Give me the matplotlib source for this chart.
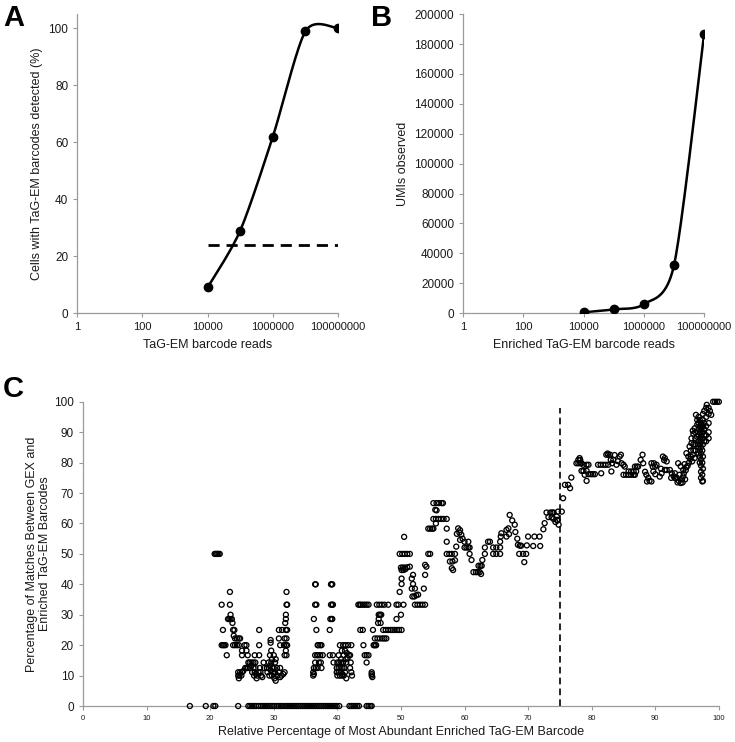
import numpy as np
import matplotlib
matplotlib.use("Agg")
import matplotlib.pyplot as plt

plt.rcParams["font.family"] = ["Liberation Sans", "DejaVu Sans"]

# panel A: detection vs read depth
reads_a = [1e4, 1e5, 1e6, 1e7, 1e8]
cells_detected = [9, 29, 62, 99, 100]
threshold_a = 24

# panel B: UMIs vs enriched read depth
reads_b = [1e4, 1e5, 1e6, 1e7, 1e8]
umis_observed = [500, 2500, 6000, 32000, 187000]

# panel C: relative abundance vs match percentage
cutoff_c = 75

zero_x = [16.8, 19.3, 20.5, 20.8, 24.4, 26.0, 26.3, 26.6, 26.9, 27.2, 27.6, 28.0,
          28.3, 28.6, 28.9, 29.2, 29.5, 29.8, 30.1, 30.5, 30.8, 31.1, 31.4, 31.8,
          32.1, 32.4, 32.7, 33.0, 33.3, 33.6, 33.9, 34.2, 34.5, 34.8, 35.1, 35.4,
          35.7, 36.0, 36.3, 36.6, 36.9, 37.2, 37.5, 37.8, 38.1, 38.4, 38.7, 39.0,
          39.3, 39.6, 39.9, 40.3, 41.9, 42.2, 42.5, 42.8, 43.1, 43.4, 44.6, 44.9,
          45.2, 45.4]

pts_20_33 = [
    (20.7, 50), (20.9, 50), (21.1, 50), (21.3, 50), (21.5, 50),
    (23.1, 37.5), (21.8, 33.3), (23.1, 33.3), (23.2, 30.0), (22.8, 28.6),
    (23.0, 28.6), (23.2, 28.6), (23.4, 28.6), (23.5, 27.3), (22.0, 25.0),
    (23.6, 25.0), (23.8, 25.0), (23.7, 23.1), (23.9, 22.2), (24.2, 22.2),
    (24.5, 22.2), (24.7, 22.2), (21.8, 20), (22.0, 20), (22.2, 20), (22.4, 20),
    (23.6, 20), (23.9, 20), (24.2, 20), (24.5, 20), (25.4, 20), (25.7, 20),
    (22.6, 16.7), (25.0, 18.2), (25.7, 18.2), (25.0, 16.7), (25.9, 16.7),
    (24.4, 11.1), (24.7, 11.1), (25.0, 11.1), (24.4, 10.0), (24.6, 10.0),
    (24.9, 10.0), (24.5, 9.1), (25.2, 11.5), (25.5, 12.5), (25.7, 12.5),
    (25.9, 12.5), (26.2, 12.5), (26.0, 14.3), (26.2, 14.3), (26.5, 14.3),
    (26.8, 14.3), (27.1, 14.3), (26.5, 13.3), (26.8, 12.5), (27.1, 12.5),
    (27.0, 16.7), (27.7, 16.7), (27.7, 20.0), (27.7, 25.0), (27.0, 11.1),
    (27.2, 10.5), (27.4, 10.0), (27.6, 11.1), (27.8, 12.5), (28.0, 10.0),
    (28.2, 9.5), (27.3, 9.1), (27.9, 11.1), (26.6, 11.1), (26.9, 10.0),
    (28.5, 12.5), (28.4, 14.3), (29.5, 21.7), (29.5, 20.8), (29.6, 18.2),
    (29.4, 16.7), (29.7, 15.4), (29.6, 14.3), (29.4, 13.3), (29.8, 12.5),
    (29.5, 11.8), (29.9, 11.1), (30.0, 10.5), (29.7, 10.0), (30.1, 9.1),
    (30.3, 8.3), (30.0, 12.5), (30.2, 14.3), (30.3, 15.4), (30.0, 16.7),
    (30.2, 11.1), (29.2, 14.3), (29.0, 11.1), (29.2, 12.5), (28.9, 12.5),
    (29.3, 10.0), (30.8, 25), (31.3, 25), (31.9, 25), (32.1, 25), (30.8, 22.2),
    (31.7, 22.2), (32.0, 22.2), (31.6, 20), (31.9, 20), (32.1, 20), (31.0, 20),
    (32.0, 37.5), (32.0, 33.3), (32.1, 33.3), (31.9, 30), (31.9, 28.6),
    (31.8, 27.3), (31.9, 18.2), (31.7, 16.7), (32.0, 16.7), (30.6, 10),
    (30.8, 11.1), (31.0, 12.5), (31.2, 10), (31.5, 10.5), (31.7, 11.1),
    (30.5, 12.5), (31.0, 9.5),
]

pts_36_50 = [
    (36.5, 40), (36.6, 40), (39.1, 40), (39.2, 40), (39.0, 40),
    (36.5, 33.3), (36.7, 33.3), (39.0, 33.3), (39.2, 33.3), (39.3, 33.3),
    (36.3, 28.6), (39.1, 28.6), (39.2, 28.6), (38.9, 28.6), (36.7, 25),
    (38.8, 25), (37.0, 20), (37.3, 20), (37.5, 20), (36.9, 20), (36.5, 16.7),
    (36.8, 16.7), (37.0, 16.7), (37.3, 16.7), (37.7, 16.7), (38.8, 16.7),
    (39.3, 16.7), (36.5, 14.3), (37.1, 14.3), (37.4, 14.3), (39.4, 14.3),
    (36.3, 12.5), (36.6, 12.5), (36.9, 12.5), (37.5, 12.5), (36.2, 11.1),
    (36.2, 10.0), (36.3, 10.5), (40.4, 20), (40.9, 20), (41.3, 20), (42.2, 20),
    (41.7, 20), (40.7, 18.2), (41.2, 18.2), (41.5, 17.4), (41.8, 16.7),
    (42.0, 16.7), (41.0, 16.7), (40.2, 16.7), (40.6, 15.4), (41.3, 15.4),
    (41.6, 15.8), (40.0, 14.3), (40.3, 14.3), (40.6, 14.3), (40.9, 14.3),
    (41.4, 14.3), (42.1, 14.3), (39.9, 12.5), (40.2, 12.5), (40.5, 12.5),
    (40.8, 12.5), (41.1, 12.5), (42.0, 12.5), (39.9, 11.1), (40.2, 11.1),
    (40.5, 11.1), (40.8, 10.5), (41.2, 11.1), (42.2, 11.1), (40.0, 10),
    (40.4, 10), (40.7, 10), (41.0, 10), (41.4, 9.1), (42.3, 10),
    (43.3, 33.3), (43.5, 33.3), (43.7, 33.3), (44.0, 33.3), (44.3, 33.3),
    (44.6, 33.3), (44.9, 33.3), (43.6, 25), (44.0, 25), (45.6, 25), (44.1, 20),
    (46.0, 20), (45.7, 20), (44.3, 16.7), (44.6, 16.7), (44.9, 16.7),
    (44.6, 14.3), (45.4, 11.1), (45.4, 10.5), (45.4, 10.0), (45.5, 9.5),
    (46.2, 33.3), (46.6, 33.3), (47.0, 33.3), (47.4, 33.3), (48.0, 33.3),
    (46.7, 30), (46.5, 30), (46.9, 30), (46.5, 28.6), (46.8, 27.3),
    (46.4, 27.3), (47.2, 25), (47.6, 25), (48.0, 25), (48.4, 25), (48.7, 25),
    (49.0, 25), (49.4, 25), (49.7, 25), (50.1, 25), (45.9, 22.2), (46.3, 22.2),
    (46.7, 22.2), (47.1, 22.2), (47.4, 22.2), (47.7, 22.2), (45.8, 20.0),
    (46.1, 20.0), (49.3, 33.3), (49.6, 33.3), (50.4, 33.3), (50.0, 30),
    (49.3, 28.6), (49.8, 37.5),
]

pts_50_75 = [
    (50.5, 55.6), (49.8, 50), (50.2, 50), (50.6, 50), (51.0, 50), (51.4, 50),
    (50.0, 45.5), (50.3, 45.5), (50.6, 45.5), (51.0, 45.6), (51.4, 45.8),
    (50.1, 44.7), (50.4, 44.7), (50.7, 45.0), (50.1, 41.9), (50.1, 40.1),
    (51.9, 43.1), (51.7, 41.9), (51.9, 40.1), (51.7, 38.6), (52.2, 38.6),
    (51.8, 36), (52.1, 36), (52.4, 36.4), (52.7, 36.6), (52.2, 33.3),
    (52.6, 33.3), (53.0, 33.3), (53.4, 33.3), (53.8, 33.3), (53.6, 38.6),
    (53.8, 46.4), (54.0, 45.8), (53.8, 43.1), (54.3, 50), (54.6, 50),
    (54.3, 58.3), (54.6, 58.3), (54.9, 58.3), (55.1, 58.3), (55.1, 66.7),
    (55.6, 66.7), (56.0, 66.7), (56.4, 66.7), (56.6, 66.7), (55.4, 64.5),
    (55.6, 64.3), (55.1, 61.5), (55.5, 61.5), (55.9, 61.5), (56.3, 61.5),
    (56.7, 61.5), (57.2, 61.5), (55.5, 60.0), (57.2, 58.3), (57.2, 54.0),
    (57.2, 50), (57.6, 50), (58.0, 50), (58.5, 50), (57.7, 47.5), (58.1, 47.5),
    (58.5, 47.9), (58.0, 45.3), (58.2, 44.7), (59.0, 58.4), (59.3, 57.8),
    (59.5, 56.3), (59.2, 57.0), (58.8, 56.6), (59.3, 54.6), (59.7, 55.0),
    (58.7, 52.4), (60.0, 54), (60.6, 54), (60.0, 52.1), (60.3, 52.1),
    (60.6, 52.1), (60.8, 52.1), (60.8, 50), (61.1, 48), (61.4, 44), (61.8, 44),
    (62.1, 44), (62.4, 44), (62.6, 43.4), (62.2, 46.1), (62.5, 46.1),
    (62.7, 46.1), (62.8, 48), (63.2, 50), (63.2, 52.1), (63.7, 54), (64.0, 54),
    (64.5, 52.1), (65.0, 52.1), (65.6, 52.1), (64.5, 50), (65.0, 50),
    (65.6, 50), (65.6, 54), (65.7, 55.7), (65.8, 56.8), (66.6, 57.9),
    (66.6, 55.7), (66.9, 58.4), (67.0, 56.5), (67.1, 62.8), (67.5, 61.0),
    (67.9, 59.6), (68.0, 57.2), (68.3, 55.0), (68.4, 53), (68.6, 50),
    (69.2, 50), (69.7, 50), (68.7, 52.7), (68.9, 52.7), (69.4, 47.3),
    (70.0, 55.7), (71.0, 55.7), (71.8, 55.7), (69.8, 52.8), (70.8, 52.6),
    (71.9, 52.6), (72.4, 58.1), (72.6, 60.1), (72.9, 63.6), (73.2, 62.1),
    (73.5, 63.6), (73.8, 63.6), (74.0, 63.6), (73.7, 62.0), (74.0, 61.5),
    (74.3, 60.5), (74.6, 61.2), (74.7, 63.9), (75.3, 63.9), (74.5, 62.3),
    (74.6, 61.0), (74.8, 59.6),
]

pts_75_95 = [
    (75.5, 68.3), (75.8, 72.7), (76.3, 72.7), (76.6, 71.6), (76.8, 75.1),
    (77.6, 79.8), (77.9, 79.8), (78.2, 79.8), (78.4, 79.8), (77.9, 80.9),
    (78.2, 80.9), (78.1, 81.5), (78.7, 79.3), (79.2, 79.3), (79.5, 79.3),
    (78.4, 77.3), (78.7, 77.3), (79.2, 77.3), (78.9, 76.0), (79.2, 74.0),
    (79.5, 76.2), (79.9, 76.2), (80.2, 76.2), (80.5, 76.2), (81.0, 79.3),
    (81.4, 79.3), (81.8, 79.3), (82.2, 79.3), (82.6, 79.3), (81.5, 76.5),
    (82.3, 82.6), (82.6, 82.6), (82.9, 82.6), (82.5, 83.0), (83.0, 80.9),
    (83.4, 80.9), (83.2, 79.8), (83.1, 77.1), (83.6, 82.5), (83.9, 79.3),
    (84.1, 80.5), (84.4, 82.0), (84.6, 82.6), (84.7, 79.8), (85.0, 79.3),
    (85.2, 78.7), (85.0, 76.0), (85.4, 76.0), (85.8, 76.0), (86.2, 76.0),
    (86.6, 76.0), (86.8, 76.0), (85.8, 77.1), (86.2, 77.1), (86.6, 77.1),
    (87.0, 77.1), (86.8, 78.7), (87.1, 78.7), (87.3, 78.7), (87.7, 80.9),
    (88.0, 82.6), (88.1, 79.8), (88.4, 77.0), (88.6, 76.0), (88.9, 75.0),
    (89.1, 74.0), (89.4, 73.8), (88.7, 73.8), (89.4, 79.8), (89.8, 79.8),
    (90.2, 79.3), (89.6, 78.7), (90.0, 78.7), (89.7, 77.1), (90.0, 76.2),
    (90.7, 75.4), (90.9, 78.0), (91.0, 76.5), (91.2, 82.0), (91.5, 81.5),
    (91.8, 80.4), (91.4, 80.8), (91.5, 77.6), (91.8, 77.6), (92.3, 77.6),
    (92.6, 76.5), (92.9, 75.5), (93.1, 74.9), (92.5, 75.0), (93.1, 76.5),
    (93.4, 75.0), (93.7, 74.0), (94.0, 73.3), (94.2, 74.5), (94.4, 75.5),
    (93.5, 73.5), (93.8, 76.0), (93.6, 79.8), (94.0, 78.8), (94.4, 77.6),
    (94.9, 78.5), (94.6, 79.5), (94.5, 76.5), (94.8, 77.5), (95.1, 79.0),
    (95.3, 80.0), (94.3, 73.5), (94.7, 74.5),
]

pts_95_100 = [
    (94.9, 83.1), (95.2, 82.0), (95.5, 81.2), (95.8, 80.4), (96.2, 81.5),
    (95.9, 82.6), (95.4, 85.3), (95.7, 86.4), (95.6, 84.0), (95.6, 82.0),
    (96.0, 86.0), (96.0, 84.0), (96.3, 90.0), (96.3, 88.0), (96.3, 86.0),
    (96.3, 84.0), (95.7, 88.0), (96.0, 89.5), (96.2, 91.3), (96.6, 88.5),
    (96.7, 86.0), (95.9, 90.5), (96.4, 95.7), (96.6, 94.0), (96.6, 92.5),
    (96.8, 95.0), (96.8, 93.0), (96.8, 91.0), (96.8, 89.0), (96.8, 87.0),
    (96.8, 85.0), (96.8, 83.0), (97.0, 94.0), (97.0, 92.0), (97.0, 90.0),
    (97.0, 88.0), (97.0, 86.0), (97.0, 84.0), (97.0, 82.0), (97.0, 80.0),
    (97.2, 93.0), (97.2, 91.0), (97.2, 89.0), (97.2, 87.0), (97.2, 85.0),
    (97.2, 83.0), (97.2, 81.0), (97.2, 79.0), (97.2, 77.0), (97.2, 75.0),
    (97.4, 84.0), (97.4, 80.0), (97.4, 76.0), (97.4, 73.8),
    (97.5, 96.0), (97.5, 94.0), (97.5, 92.0), (97.5, 90.0), (97.5, 88.0),
    (97.5, 86.0), (97.5, 82.0), (97.5, 78.0), (97.5, 74.0),
    (97.7, 97.0), (97.7, 93.0), (97.7, 91.0), (97.7, 89.0), (97.7, 87.0),
    (98.0, 98.0), (98.0, 95.0), (98.0, 92.0), (98.0, 89.0), (98.0, 87.0),
    (98.4, 96.0), (98.4, 93.0), (98.4, 90.0), (98.4, 88.0), (98.6, 97.0),
    (98.8, 95.7), (98.1, 99.0), (98.4, 98.0), (99.1, 100), (99.4, 100),
    (99.7, 100), (100.0, 100),
]

AXIS_GRAY = "#9a9a9a"
TEXT = "#1a1a1a"


def smooth_curve(xs, ys, n=40, k=0.4):
    # cardinal spline through the points, like a spreadsheet "smoothed line"
    pts = np.column_stack([xs, ys]).astype(float)
    padded = np.vstack([pts[0], pts, pts[-1]])
    t = np.linspace(0, 1, n)[:, None]
    h00 = 2 * t ** 3 - 3 * t ** 2 + 1
    h10 = t ** 3 - 2 * t ** 2 + t
    h01 = -2 * t ** 3 + 3 * t ** 2
    h11 = t ** 3 - t ** 2
    out = []
    for i in range(len(pts) - 1):
        p0, p1, p2, p3 = padded[i], padded[i + 1], padded[i + 2], padded[i + 3]
        m1 = k * (p2 - p0)
        m2 = k * (p3 - p1)
        out.append(h00 * p1 + h10 * m1 + h01 * p2 + h11 * m2)
    return np.vstack(out)


def style_axes(ax, xsize, ysize):
    for side in ("top", "right"):
        ax.spines[side].set_visible(False)
    for side in ("left", "bottom"):
        ax.spines[side].set_color(AXIS_GRAY)
        ax.spines[side].set_linewidth(0.9)
    ax.tick_params(axis="both", color=AXIS_GRAY, length=3, width=0.8,
                   labelcolor=TEXT)
    ax.tick_params(axis="x", labelsize=xsize)
    ax.tick_params(axis="y", labelsize=ysize)


def log_curve(ax, xs, ys):
    curve = smooth_curve(np.log10(xs), ys)
    ax.plot(10 ** curve[:, 0], curve[:, 1], color="black", lw=1.8, zorder=2)
    ax.plot(xs, ys, "o", color="black", ms=6, zorder=3)
    ax.set_xscale("log")
    ax.set_xlim(1, 1e8)
    ax.set_xticks([1, 1e2, 1e4, 1e6, 1e8])
    ax.set_xticklabels(["1", "100", "10000", "1000000", "100000000"])
    ax.minorticks_off()


fig = plt.figure(figsize=(7.35, 7.42), dpi=100)

# A
ax_a = fig.add_axes([0.105, 0.578, 0.355, 0.403])
log_curve(ax_a, reads_a, cells_detected)
ax_a.plot([reads_a[0], reads_a[-1]], [threshold_a, threshold_a], color="black",
          lw=2, dashes=(4, 2.5), zorder=1)
ax_a.set_ylim(0, 105)
ax_a.set_yticks(range(0, 101, 20))
style_axes(ax_a, 8, 8.5)
ax_a.set_xlabel("TaG-EM barcode reads", fontsize=9, color=TEXT, labelpad=5)
ax_a.set_ylabel("Cells with TaG-EM barcodes detected (%)", fontsize=9,
                color=TEXT, labelpad=4)

# B
ax_b = fig.add_axes([0.63, 0.578, 0.328, 0.403])
log_curve(ax_b, reads_b, umis_observed)
ax_b.set_ylim(0, 200000)
ax_b.set_yticks(range(0, 200001, 20000))
style_axes(ax_b, 8, 8.5)
ax_b.set_xlabel("Enriched TaG-EM barcode reads", fontsize=9, color=TEXT,
                labelpad=5)
ax_b.set_ylabel("UMIs observed", fontsize=9, color=TEXT, labelpad=4)

# C
all_pts = ([(x, 0) for x in zero_x] + pts_20_33 + pts_36_50 + pts_50_75
           + pts_75_95 + pts_95_100)
cx = np.array([p[0] for p in all_pts])
cy = np.array([p[1] for p in all_pts])

ax_c = fig.add_axes([0.113, 0.0485, 0.865, 0.41])
ax_c.scatter(cx, cy, s=13, facecolors="none", edgecolors="black",
             linewidths=0.95, zorder=3, clip_on=False)
ax_c.plot([cutoff_c, cutoff_c], [0, 98], color="black", lw=1.2,
          dashes=(4, 2.5), zorder=2)
ax_c.set_xlim(0, 100)
ax_c.set_ylim(0, 100)
ax_c.set_xticks(range(0, 101, 10))
ax_c.set_yticks(range(0, 101, 10))
style_axes(ax_c, 5.5, 8.5)
ax_c.set_xlabel("Relative Percentage of Most Abundant Enriched TaG-EM Barcode",
                fontsize=9, color=TEXT, labelpad=3)
ax_c.set_ylabel("Percentage of Matches Between GEX and\nEnriched TaG-EM Barcodes",
                fontsize=9, color=TEXT, labelpad=2.5, linespacing=1.1)

for label, x, y in [("A", 0.005, 0.995), ("B", 0.505, 0.995), ("C", 0.004, 0.495)]:
    fig.text(x, y, label, fontsize=21, fontweight="bold", va="top", ha="left")

fig.savefig("out.png", dpi=100)
